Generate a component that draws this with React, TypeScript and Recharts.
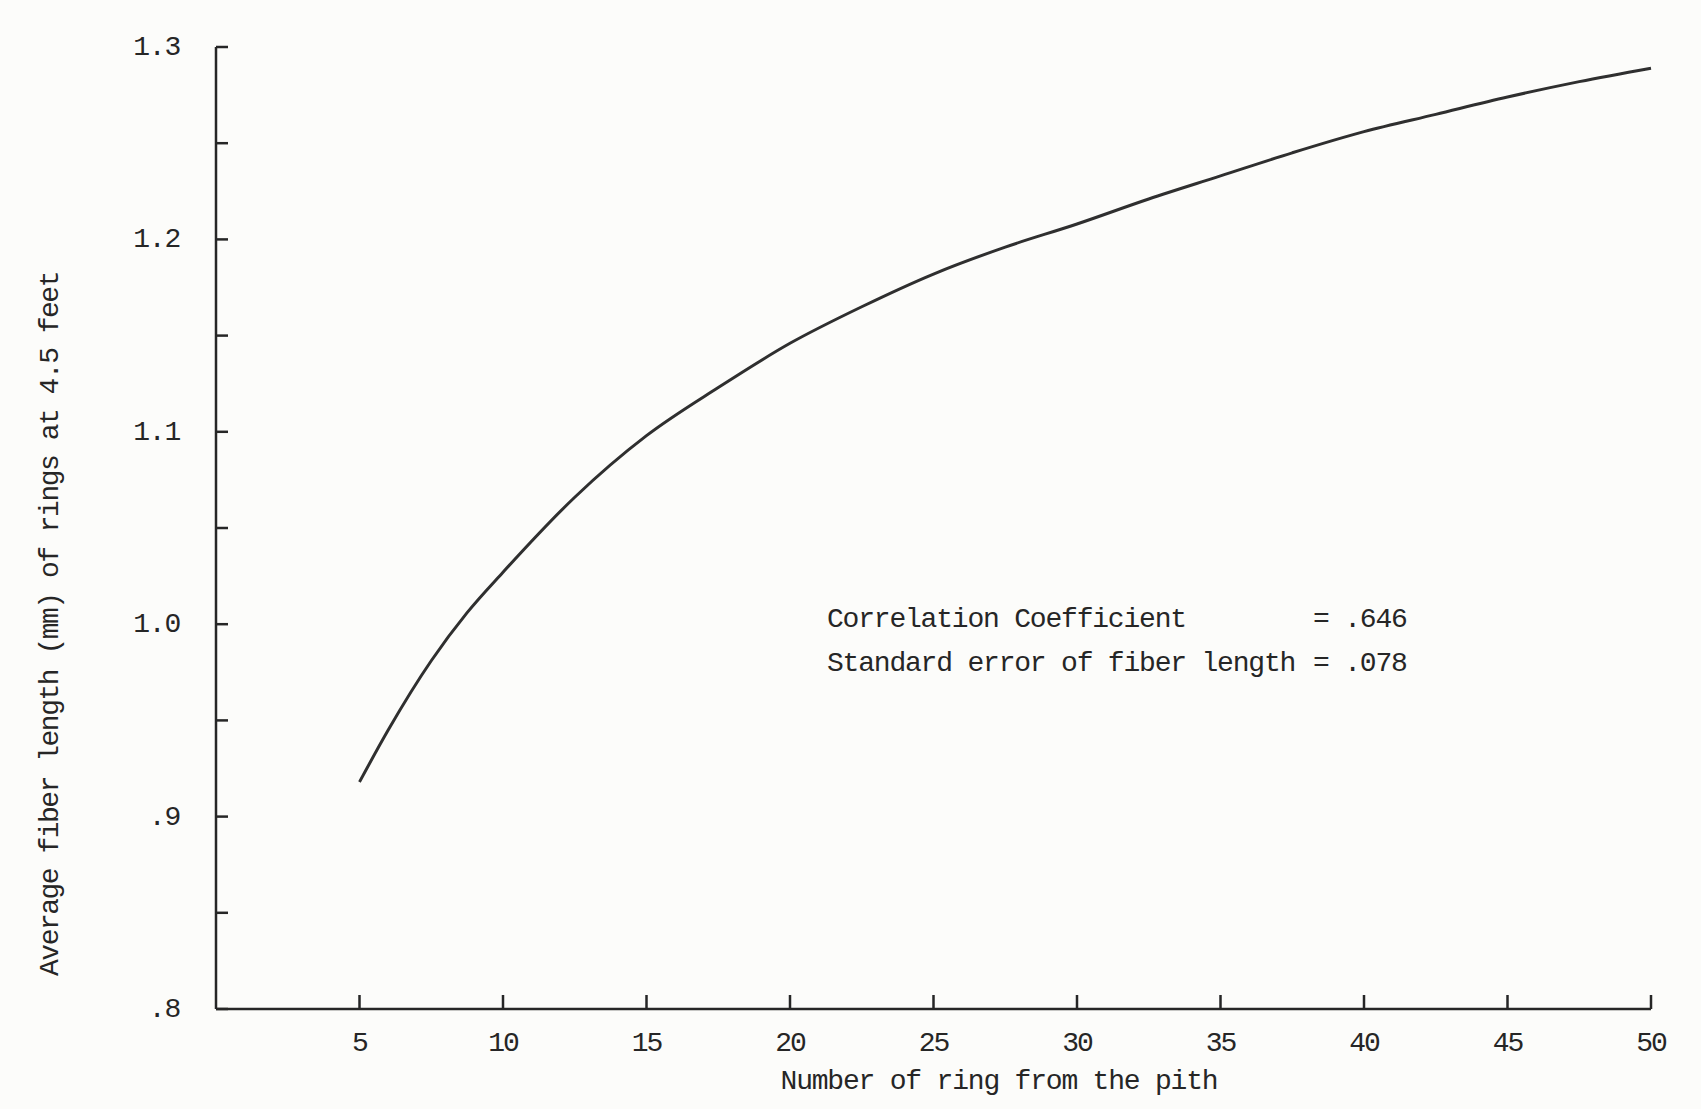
import React from 'react';
import { LineChart, Line, XAxis, YAxis } from 'recharts';

// Ring number from the pith
const rings = [5, 6, 7.5, 8.75, 10, 12.5, 15, 17.5, 20, 22.5, 25, 27.5, 30, 32.5, 35, 37.5, 40, 42.5, 45, 47.5, 50];
// Average fiber length (mm)
const fiberLength = [0.918, 0.945, 0.981, 1.006, 1.027, 1.066, 1.098, 1.123, 1.146, 1.165, 1.182, 1.196, 1.208, 1.221, 1.233, 1.245, 1.256, 1.265, 1.274, 1.282, 1.289];

const xTicks = [5, 10, 15, 20, 25, 30, 35, 40, 45, 50];
const yTicks = [0.8, 0.85, 0.9, 0.95, 1.0, 1.05, 1.1, 1.15, 1.2, 1.25, 1.3];
const yLabeledTicks = [0.8, 0.9, 1.0, 1.1, 1.2, 1.3];
const yTickLabels = ['.8', '.9', '1.0', '1.1', '1.2', '1.3'];

const xTitle = 'Number of ring from the pith';
const yTitle = 'Average fiber length (mm) of rings at 4.5 feet';
const statNames = ['Correlation Coefficient', 'Standard error of fiber length'];
const statValues = ['= .646', '= .078'];

const data = rings.map((r, i) => ({ ring: r, len: fiberLength[i] }));

const FONT = '"Liberation Mono", "DejaVu Sans Mono", monospace';
const INK = '#262626';
const FS = 28;
const LS = -1.2;

const YTick = (props: any) => {
  const { x, y, payload } = props;
  const v = payload.value;
  const idx = yLabeledTicks.findIndex((t) => Math.abs(t - v) < 1e-6);
  return (
    <g>
      <line x1={x} y1={y} x2={x + 12} y2={y} stroke={INK} strokeWidth={2.5} />
      {idx >= 0 && (
        <text x={x - 36} y={y} dy={8} textAnchor="end" fontFamily={FONT} fontSize={FS} letterSpacing={LS} fill={INK}>
          {yTickLabels[idx]}
        </text>
      )}
    </g>
  );
};

const XTick = (props: any) => {
  const { x, y, payload } = props;
  return (
    <g>
      <line x1={x} y1={y} x2={x} y2={y - 14} stroke={INK} strokeWidth={2.5} />
      <text x={x} y={y} dy={42} textAnchor="middle" fontFamily={FONT} fontSize={FS} fill={INK} letterSpacing={-2}>
        {payload.value}
      </text>
    </g>
  );
};

export default function App() {
  return (
    <div style={{ position: 'absolute', left: 0, top: 0, width: 1701, height: 1109, background: '#fcfcfa' }}>
      <LineChart
        width={1701}
        height={1109}
        data={data}
        margin={{ top: 47, right: 50, bottom: 0, left: 0 }}
      >
        <XAxis
          dataKey="ring"
          type="number"
          domain={[0, 50]}
          ticks={xTicks}
          tickSize={0}
          tickMargin={0}
          tickLine={false}
          tick={<XTick />}
          axisLine={{ stroke: INK, strokeWidth: 2.5 }}
          height={100}
          interval={0}
        />
        <YAxis
          type="number"
          domain={[0.8, 1.3]}
          ticks={yTicks}
          tickSize={0}
          tickMargin={0}
          tickLine={false}
          tick={<YTick />}
          axisLine={{ stroke: INK, strokeWidth: 2.5 }}
          width={216}
          interval={0}
          allowDataOverflow
        />
        <Line
          type="monotone"
          dataKey="len"
          stroke="#2f2f2f"
          strokeWidth={3}
          dot={false}
          isAnimationActive={false}
        />
      </LineChart>
      <svg
        width={1701}
        height={1109}
        style={{ position: 'absolute', left: 0, top: 0, pointerEvents: 'none' }}
      >
        <text x={999} y={1089} textAnchor="middle" fontFamily={FONT} fontSize={FS} letterSpacing={-1.2} fill={INK}>
          {xTitle}
        </text>
        <text
          x={49}
          y={624}
          textAnchor="middle"
          fontFamily={FONT}
          fontSize={FS}
          letterSpacing={-1.5}
          fill={INK}
          transform="rotate(-90 49 624)"
          dy={9}
        >
          {yTitle}
        </text>
        {statNames.map((s, i) => (
          <g key={s}>
            <text x={827} y={627 + i * 44} fontFamily={FONT} fontSize={FS} letterSpacing={LS} fill={INK}>
              {s}
            </text>
            <text x={1313} y={627 + i * 44} fontFamily={FONT} fontSize={FS} letterSpacing={LS} fill={INK}>
              {statValues[i]}
            </text>
          </g>
        ))}
      </svg>
    </div>
  );
}
